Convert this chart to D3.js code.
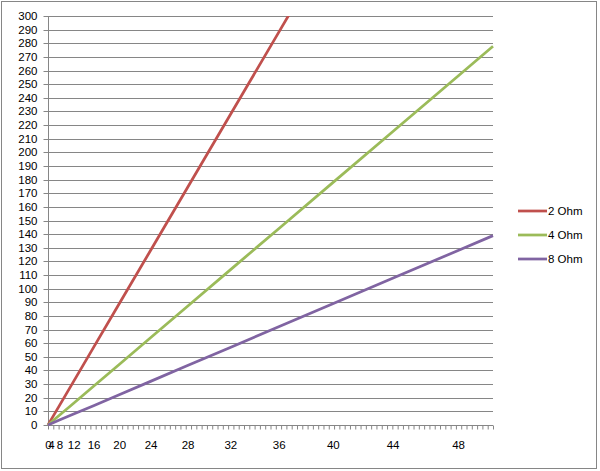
<!DOCTYPE html>
<html>
<head>
<meta charset="utf-8">
<script src="https://cdn.jsdelivr.net/npm/d3@7"></script>
<style>
  html, body { margin: 0; padding: 0; background: #fff; }
  svg { display: block; font-family: "Liberation Sans", Arial, sans-serif; }
</style>
</head>
<body>
<svg id="chart" width="600" height="471"></svg>
<script>
// ---- data ----
const voltages = [0, 4, 8, 12, 16, 20, 24, 28, 32, 36, 40, 44, 48, 50];
const ohm2 = [0, 3.6, 14.2, 32, 56.9, 88.9, 128, 174.2, 227.6, 288, 355.6, 430.2, 512, 555.6];
const ohm4 = [0, 1.8, 7.1, 16, 28.4, 44.4, 64, 87.1, 113.8, 144, 177.8, 215.1, 256, 277.8];
const ohm8 = [0, 0.9, 3.6, 8, 14.2, 22.2, 32, 43.6, 56.9, 72, 88.9, 107.6, 128, 138.9];
const seriesNames = ["2 Ohm", "4 Ohm", "8 Ohm"];
const seriesColors = ["#C0504D", "#9BBB59", "#8064A2"];
const xTickLabels = [0, 4, 8, 12, 16, 20, 24, 28, 32, 36, 40, 44, 48];
const yTickLabels = d3.range(0, 301, 10);
const categoryCount = 84;

const series = [ohm2, ohm4, ohm8].map((vals, i) => ({
  name: seriesNames[i], color: seriesColors[i],
  points: vals.map((v, j) => ({ x: voltages[j], y: v }))
}));

const svg = d3.select("#chart");
const plot = { left: 48, right: 493, top: 16, bottom: 425 };
const FONT = "'Liberation Sans', Arial, sans-serif";
const FS = 11.5;

// chart border
svg.append("rect").attr("x", 1.5).attr("y", 1.5).attr("width", 595).attr("height", 467)
  .attr("fill", "#fff").attr("stroke", "#868686").attr("stroke-width", 1);

const x = d3.scalePow().exponent(2).domain([0, 50]).range([plot.left, plot.right]);
const xCat = d3.scaleLinear().domain([0, categoryCount]).range([plot.left, plot.right]);
const y = d3.scaleLinear().domain([0, 300]).range([plot.bottom, plot.top]);

// gridlines
svg.append("g").selectAll("line").data(yTickLabels.slice(1)).join("line")
  .attr("x1", plot.left).attr("x2", plot.right)
  .attr("y1", d => Math.round(y(d)) + 0.5).attr("y2", d => Math.round(y(d)) + 0.5)
  .attr("stroke", "#868686").attr("stroke-width", 1);

// y axis
const yAxis = svg.append("g").attr("transform", `translate(${plot.left + 0.5},0)`)
  .call(d3.axisLeft(y).tickValues(yTickLabels).tickSize(5).tickPadding(6).tickFormat(d3.format("d")));
yAxis.select(".domain").attr("stroke", "#868686").attr("d", `M0,${plot.top}V${plot.bottom}`);
yAxis.selectAll(".tick line").attr("stroke", "#868686");
yAxis.selectAll(".tick").attr("transform", d => `translate(0,${Math.round(y(d)) + 0.5})`);
yAxis.selectAll("text").attr("font-size", FS).attr("fill", "#000").attr("font-family", FONT);

// x axis ticks (categories)
const xAxisTicks = svg.append("g").attr("transform", `translate(0,${plot.bottom + 0.5})`)
  .call(d3.axisBottom(xCat).tickValues(d3.range(categoryCount + 1)).tickSize(4).tickFormat(""));
xAxisTicks.select(".domain").attr("stroke", "#868686").attr("d", `M${plot.left},0H${plot.right}`);
xAxisTicks.selectAll(".tick line").attr("stroke", "#868686");

// x labels
const xAxisLabels = svg.append("g").attr("transform", `translate(0,${plot.bottom})`)
  .call(d3.axisBottom(x).tickValues(xTickLabels).tickSize(0).tickPadding(16).tickFormat(d3.format("d")));
xAxisLabels.select(".domain").remove();
xAxisLabels.selectAll("text").attr("font-size", FS).attr("fill", "#000").attr("font-family", FONT);

// lines
svg.append("clipPath").attr("id", "clip").append("rect")
  .attr("x", plot.left - 2).attr("y", plot.top).attr("width", plot.right - plot.left + 4).attr("height", plot.bottom - plot.top + 2);

const line = d3.line().x(d => x(d.x)).y(d => y(d.y));
svg.append("g").attr("clip-path", "url(#clip)").selectAll("path").data(series).join("path")
  .attr("d", d => line(d.points)).attr("fill", "none")
  .attr("stroke", d => d.color).attr("stroke-width", 2.75).attr("stroke-linejoin", "round");

// legend
const legend = svg.append("g").attr("transform", "translate(518,211)");
const li = legend.selectAll("g").data(series).join("g").attr("transform", (d, i) => `translate(0,${i * 24})`);
li.append("line").attr("x1", 0).attr("x2", 29).attr("y1", 0).attr("y2", 0)
  .attr("stroke", d => d.color).attr("stroke-width", 2.75);
li.append("text").attr("x", 30).attr("y", 0).attr("dy", "0.35em")
  .attr("font-size", FS).attr("font-family", FONT).attr("fill", "#000").text(d => d.name);
</script>
</body>
</html>
